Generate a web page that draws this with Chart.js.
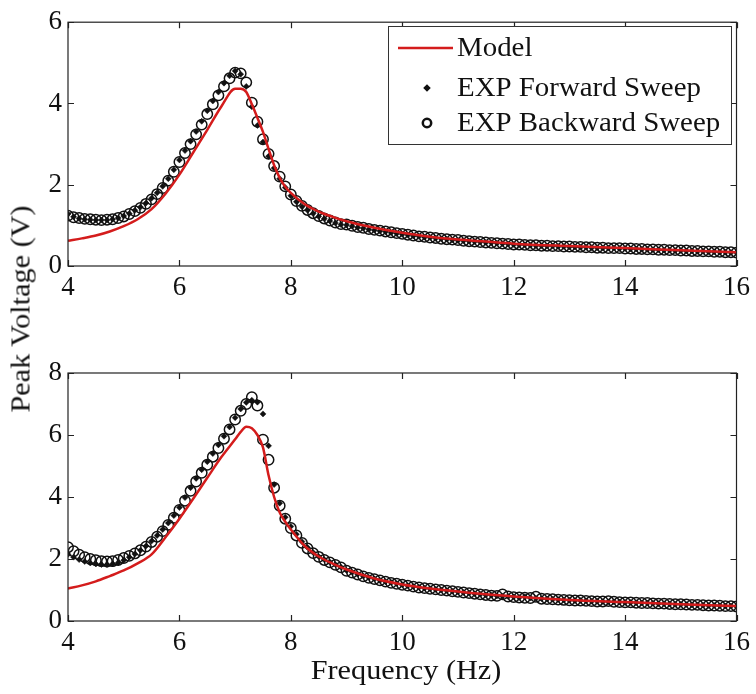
<!DOCTYPE html>
<html>
<head>
<meta charset="utf-8">
<script src="https://cdn.jsdelivr.net/npm/chart.js@4.4.1/dist/chart.umd.min.js"></script>
<style>
  body { margin: 0; background: #fff; }
  #wrap { position: relative; width: 756px; height: 694px; overflow: hidden;
          font-family: 'Liberation Serif', 'Times New Roman', serif; color: #111; }
  canvas { position: absolute; left: 0; }
  #top-chart { top: 0; }
  #bottom-chart { top: 340px; }
  .axis-title { position: absolute; font-size: 27px; white-space: nowrap; }
  #x-title { left: 406px; top: 670px; transform: translate(-50%, -50%) scaleX(1.12); }
  #y-title { left: 21px; top: 309px; transform: translate(-50%, -50%) rotate(-90deg) scaleX(1.12); }
</style>
</head>
<body>
<div id="wrap">
  <canvas id="top-chart" width="756" height="310"></canvas>
  <canvas id="bottom-chart" width="756" height="330"></canvas>
  <div class="axis-title" id="y-title">Peak Voltage (V)</div>
  <div class="axis-title" id="x-title">Frequency (Hz)</div>
</div>
<script>
// frequencies of the measured points (Hz)
const freqExp = [
  4.0, 4.1, 4.2, 4.3, 4.4, 4.5, 4.6, 4.7, 4.8, 4.9,
  5.0, 5.1, 5.2, 5.3, 5.4, 5.5, 5.6, 5.7, 5.8, 5.9,
  6.0, 6.1, 6.2, 6.3, 6.4, 6.5, 6.6, 6.7, 6.8, 6.9,
  7.0, 7.1, 7.2, 7.3, 7.4, 7.5, 7.6, 7.7, 7.8, 7.9,
  8.0, 8.1, 8.2, 8.3, 8.4, 8.5, 8.6, 8.7, 8.8, 8.9,
  9.0, 9.1, 9.2, 9.3, 9.4, 9.5, 9.6, 9.7, 9.8, 9.9,
  10.0, 10.1, 10.2, 10.3, 10.4, 10.5, 10.6, 10.7, 10.8, 10.9,
  11.0, 11.1, 11.2, 11.3, 11.4, 11.5, 11.6, 11.7, 11.8, 11.9,
  12.0, 12.1, 12.2, 12.3, 12.4, 12.5, 12.6, 12.7, 12.8, 12.9,
  13.0, 13.1, 13.2, 13.3, 13.4, 13.5, 13.6, 13.7, 13.8, 13.9,
  14.0, 14.1, 14.2, 14.3, 14.4, 14.5, 14.6, 14.7, 14.8, 14.9,
  15.0, 15.1, 15.2, 15.3, 15.4, 15.5, 15.6, 15.7, 15.8, 15.9,
  16.0
];

// upper panel
const topForward = [
  1.28, 1.21, 1.17, 1.15, 1.14, 1.13, 1.13, 1.13, 1.15, 1.18,
  1.23, 1.29, 1.37, 1.45, 1.55, 1.67, 1.80, 1.96, 2.15, 2.37,
  2.61, 2.84, 3.07, 3.31, 3.56, 3.82, 4.06, 4.28, 4.50, 4.68,
  4.80, 4.72, 4.42, 3.92, 3.46, 3.05, 2.70, 2.41, 2.15, 1.93,
  1.73, 1.58, 1.46, 1.37, 1.29, 1.22, 1.16, 1.11, 1.06, 1.02,
  1.01, 0.98, 0.95, 0.93, 0.90, 0.88, 0.86, 0.84, 0.82, 0.80,
  0.78, 0.76, 0.74, 0.73, 0.71, 0.70, 0.68, 0.67, 0.66, 0.64,
  0.63, 0.62, 0.61, 0.60, 0.59, 0.58, 0.57, 0.56, 0.55, 0.54,
  0.53, 0.52, 0.52, 0.51, 0.50, 0.50, 0.49, 0.49, 0.48, 0.48,
  0.47, 0.47, 0.46, 0.46, 0.45, 0.45, 0.44, 0.44, 0.44, 0.43,
  0.43, 0.42, 0.42, 0.41, 0.41, 0.40, 0.40, 0.39, 0.39, 0.38,
  0.38, 0.37, 0.37, 0.36, 0.36, 0.35, 0.35, 0.34, 0.34, 0.33,
  0.33
];
const topBackward = [
  1.24, 1.20, 1.18, 1.16, 1.15, 1.14, 1.13, 1.14, 1.15, 1.18,
  1.22, 1.28, 1.35, 1.43, 1.53, 1.64, 1.77, 1.92, 2.10, 2.32,
  2.56, 2.78, 3.00, 3.24, 3.48, 3.74, 3.98, 4.20, 4.42, 4.62,
  4.76, 4.74, 4.52, 4.02, 3.55, 3.12, 2.76, 2.46, 2.20, 1.96,
  1.76, 1.60, 1.48, 1.38, 1.30, 1.23, 1.17, 1.12, 1.07, 1.03,
  1.02, 0.99, 0.96, 0.94, 0.91, 0.89, 0.87, 0.85, 0.83, 0.81,
  0.79, 0.77, 0.75, 0.73, 0.72, 0.70, 0.69, 0.67, 0.66, 0.65,
  0.64, 0.62, 0.61, 0.60, 0.59, 0.58, 0.57, 0.56, 0.55, 0.54,
  0.53, 0.53, 0.52, 0.51, 0.51, 0.50, 0.50, 0.49, 0.49, 0.48,
  0.48, 0.47, 0.47, 0.46, 0.46, 0.45, 0.45, 0.44, 0.44, 0.44,
  0.43, 0.43, 0.42, 0.42, 0.41, 0.41, 0.40, 0.40, 0.39, 0.39,
  0.38, 0.38, 0.37, 0.37, 0.36, 0.36, 0.35, 0.35, 0.34, 0.34,
  0.33
];

// lower panel
const bottomForward = [
  2.15, 2.06, 1.98, 1.92, 1.87, 1.84, 1.82, 1.82, 1.84, 1.88,
  1.96, 2.06, 2.16, 2.28, 2.42, 2.58, 2.76, 2.95, 3.16, 3.40,
  3.66, 3.98, 4.30, 4.60, 4.88, 5.14, 5.40, 5.68, 5.96, 6.26,
  6.56, 6.84, 7.05, 7.12, 7.06, 6.68, 5.65, 4.40, 3.80, 3.35,
  3.05, 2.80, 2.56, 2.37, 2.21, 2.08, 1.98, 1.90, 1.82, 1.74,
  1.63, 1.57, 1.51, 1.45, 1.40, 1.36, 1.31, 1.27, 1.24, 1.21,
  1.17, 1.14, 1.11, 1.09, 1.06, 1.04, 1.02, 1.00, 0.98, 0.96,
  0.94, 0.92, 0.90, 0.88, 0.86, 0.84, 0.83, 0.81, 0.80, 0.79,
  0.78, 0.76, 0.78, 0.74, 0.73, 0.72, 0.71, 0.70, 0.69, 0.68,
  0.67, 0.66, 0.66, 0.65, 0.64, 0.64, 0.63, 0.62, 0.62, 0.61,
  0.60, 0.60, 0.59, 0.58, 0.58, 0.57, 0.56, 0.56, 0.55, 0.54,
  0.54, 0.53, 0.52, 0.52, 0.51, 0.50, 0.50, 0.49, 0.48, 0.48,
  0.47
];
const bottomBackward = [
  2.38, 2.25, 2.14, 2.06, 2.00, 1.96, 1.93, 1.92, 1.93, 1.97,
  2.03, 2.10, 2.18, 2.28, 2.40, 2.55, 2.72, 2.90, 3.10, 3.33,
  3.58, 3.88, 4.20, 4.50, 4.78, 5.04, 5.30, 5.58, 5.88, 6.18,
  6.50, 6.78, 7.00, 7.22, 6.95, 5.85, 5.20, 4.30, 3.72, 3.30,
  3.00, 2.76, 2.52, 2.34, 2.19, 2.07, 1.97, 1.89, 1.81, 1.73,
  1.62, 1.56, 1.50, 1.44, 1.39, 1.35, 1.31, 1.27, 1.23, 1.20,
  1.17, 1.14, 1.11, 1.08, 1.06, 1.04, 1.02, 1.00, 0.98, 0.96,
  0.94, 0.92, 0.90, 0.88, 0.86, 0.84, 0.82, 0.81, 0.86, 0.79,
  0.77, 0.76, 0.75, 0.74, 0.78, 0.72, 0.71, 0.70, 0.69, 0.68,
  0.67, 0.66, 0.66, 0.65, 0.64, 0.63, 0.63, 0.64, 0.62, 0.61,
  0.60, 0.60, 0.59, 0.58, 0.58, 0.57, 0.56, 0.56, 0.55, 0.54,
  0.54, 0.53, 0.52, 0.52, 0.51, 0.50, 0.50, 0.49, 0.48, 0.48,
  0.47
];

// model curves
const modelFreq = [4.0, 4.25, 4.5, 4.75, 5.0, 5.25, 5.5, 5.75, 6.0, 6.25, 6.5, 6.75,
  7.0, 7.1, 7.2, 7.3, 7.4, 7.5, 7.6, 7.7, 7.8, 7.9, 8.0, 8.25, 8.5, 8.75, 9.0,
  9.5, 10, 10.5, 11, 11.5, 12, 13, 14, 15, 16];
const topModel = [0.62, 0.68, 0.75, 0.85, 0.98, 1.15, 1.40, 1.78, 2.25, 2.80, 3.35, 3.92,
  4.36, 4.36, 4.28, 3.98, 3.65, 3.30, 2.88, 2.48, 2.17, 1.95, 1.80, 1.52, 1.34, 1.21, 1.10,
  0.94, 0.82, 0.72, 0.65, 0.60, 0.55, 0.49, 0.44, 0.39, 0.34];
const bottomModel = [1.05, 1.15, 1.28, 1.45, 1.63, 1.86, 2.15, 2.70, 3.30, 3.95, 4.62, 5.28,
  5.86, 6.10, 6.27, 6.22, 6.00, 5.60, 4.70, 4.00, 3.50, 3.20, 2.95, 2.42, 2.08, 1.85, 1.66,
  1.37, 1.18, 1.05, 0.95, 0.86, 0.79, 0.68, 0.61, 0.54, 0.48];

// ticks
const xTicks = [4, 6, 8, 10, 12, 14, 16];
const topYTicks = [0, 2, 4, 6];
const bottomYTicks = [0, 2, 4, 6, 8];

const legendOrder = ['Model', 'EXP Forward Sweep', 'EXP Backward Sweep'];

const serif = "'Liberation Serif', 'Times New Roman', serif";
const ink = '#111';

// box around the plot area with inward ticks, plus optional legend box
const framePlugin = {
  id: 'frame',
  afterDraw(chart, args, opts) {
    const ctx = chart.ctx;
    const a = chart.chartArea;
    const xs = chart.scales.x, ys = chart.scales.y;
    const tl = 6;
    ctx.save();
    ctx.strokeStyle = '#222';
    ctx.lineWidth = 1.2;
    ctx.strokeRect(a.left, a.top, a.right - a.left, a.bottom - a.top);
    ctx.beginPath();
    xs.ticks.forEach(t => {
      const px = Math.round(xs.getPixelForValue(t.value)) + 0.5;
      ctx.moveTo(px, a.bottom); ctx.lineTo(px, a.bottom - tl);
      ctx.moveTo(px, a.top); ctx.lineTo(px, a.top + tl);
    });
    ys.ticks.forEach(t => {
      const py = Math.round(ys.getPixelForValue(t.value)) + 0.5;
      ctx.moveTo(a.left, py); ctx.lineTo(a.left + tl, py);
      ctx.moveTo(a.right, py); ctx.lineTo(a.right - tl, py);
    });
    ctx.stroke();

    if (opts.legend) {
      const L = opts.legend;
      ctx.fillStyle = '#fff';
      ctx.fillRect(L.x, L.y, L.w, L.h);
      ctx.strokeStyle = '#333';
      ctx.lineWidth = 1;
      ctx.strokeRect(L.x + 0.5, L.y + 0.5, L.w, L.h);
      ctx.font = '27px ' + serif;
      ctx.textBaseline = 'middle';
      legendOrder.forEach((name, i) => {
        const ds = chart.data.datasets.find(d => d.label === name);
        const cy = L.rows[i];
        if (ds.showLine) {
          ctx.strokeStyle = ds.borderColor;
          ctx.lineWidth = ds.borderWidth;
          ctx.beginPath();
          ctx.moveTo(L.x + 10, cy); ctx.lineTo(L.x + 65, cy);
          ctx.stroke();
        } else {
          ctx.fillStyle = ds.backgroundColor;
          ctx.strokeStyle = ds.borderColor;
          Chart.helpers.drawPoint(ctx, {
            pointStyle: ds.pointStyle, radius: ds.pointRadius - 1,
            borderWidth: ds.borderWidth, rotation: 0
          }, L.x + 39, cy);
        }
        ctx.save();
        ctx.translate(L.x + 69, cy + 1);
        ctx.scale(1.07, 1);
        ctx.fillStyle = ink;
        ctx.fillText(name, 0, 0);
        ctx.restore();
      });
    }
    ctx.restore();
  }
};

function makePanel(id, fwd, bwd, model, yTicks, padTop, xHeight, legend) {
  const tickFont = { family: serif, size: 27 };
  return new Chart(document.getElementById(id), {
    type: 'scatter',
    data: {
      datasets: [
        {
          label: 'EXP Backward Sweep',
          data: freqExp.map((f, i) => ({ x: f, y: bwd[i] })),
          pointStyle: 'circle', pointRadius: 5.2, borderWidth: 1.5,
          borderColor: ink, backgroundColor: 'rgba(0,0,0,0)',
          showLine: false, order: 3
        },
        {
          label: 'EXP Forward Sweep',
          data: freqExp.map((f, i) => ({ x: f, y: fwd[i] })),
          pointStyle: 'rectRot', pointRadius: 3, borderWidth: 0.5,
          borderColor: ink, backgroundColor: ink,
          showLine: false, order: 2
        },
        {
          label: 'Model',
          data: modelFreq.map((f, i) => ({ x: f, y: model[i] })),
          showLine: true, pointRadius: 0, borderColor: '#d41c1c',
          borderWidth: 2.5, cubicInterpolationMode: 'monotone', order: 1
        }
      ]
    },
    options: {
      responsive: false,
      animation: false,
      layout: { padding: { top: padTop, right: 17, left: 0, bottom: 0 } },
      scales: {
        x: {
          type: 'linear', min: xTicks[0], max: xTicks[xTicks.length - 1],
          afterBuildTicks: s => { s.ticks = xTicks.map(v => ({ value: v })); },
          afterFit: s => { s.height = xHeight; },
          grid: { display: false, drawTicks: false },
          border: { display: false },
          ticks: { font: tickFont, color: ink, padding: 6, maxRotation: 0, autoSkip: false }
        },
        y: {
          min: yTicks[0], max: yTicks[yTicks.length - 1],
          afterBuildTicks: s => { s.ticks = yTicks.map(v => ({ value: v })); },
          afterFit: s => { s.width = 68; },
          grid: { display: false, drawTicks: false },
          border: { display: false },
          ticks: { font: tickFont, color: ink, padding: 6 }
        }
      },
      plugins: {
        legend: { display: false },
        tooltip: { enabled: false },
        frame: { legend: legend }
      }
    },
    plugins: [framePlugin]
  });
}

makePanel('top-chart', topForward, topBackward, topModel, topYTicks, 18, 44,
  { x: 388, y: 26, w: 343, h: 118, rows: [48, 88, 123] });
makePanel('bottom-chart', bottomForward, bottomBackward, bottomModel, bottomYTicks, 33, 49, null);
</script>
</body>
</html>
